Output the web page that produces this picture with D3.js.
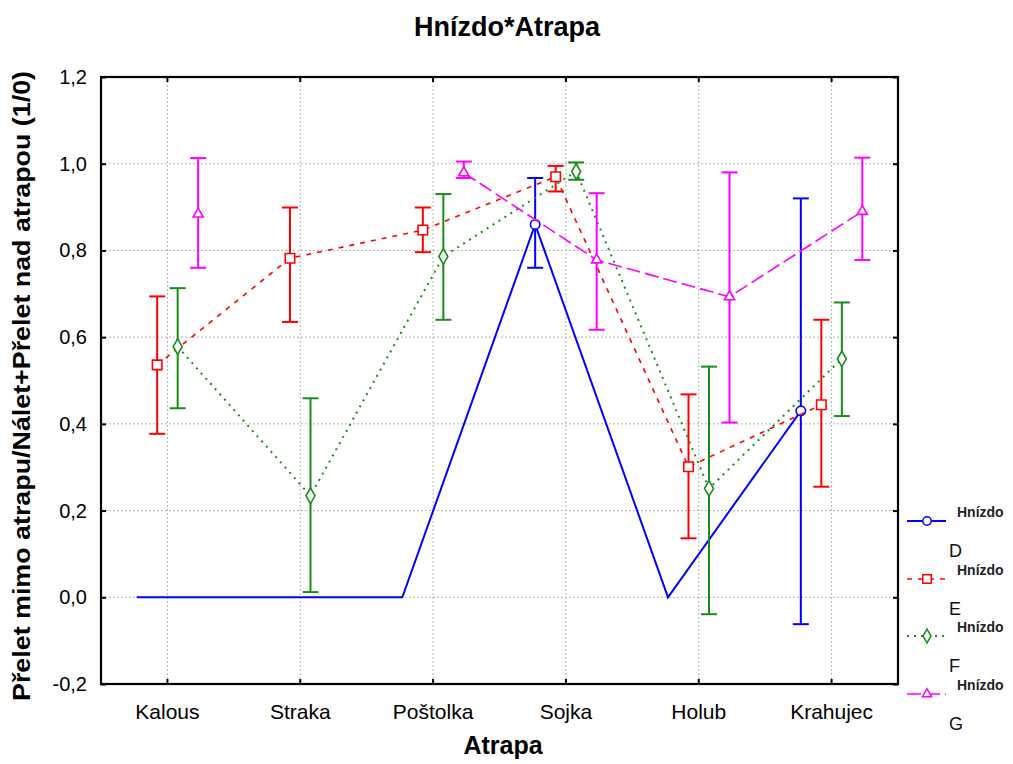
<!DOCTYPE html>
<html><head><meta charset="utf-8">
<script src="https://cdn.jsdelivr.net/npm/d3@7"></script>
<style>body{margin:0;background:#fff}svg{display:block}</style>
</head><body>
<svg id="c" width="1013" height="764"></svg>
<script>
const categories = ["Kalous","Straka","Poštolka","Sojka","Holub","Krahujec"];
const seriesNames = ["D","E","F","G"];
const meanD = [0,0,0,0.86,0,0.43];
const lowD  = [null,null,null,0.76,null,-0.062];
const highD = [null,null,null,0.967,null,0.92];
const meanE = [0.536,0.782,0.847,0.970,0.301,0.444];
const lowE  = [0.377,0.635,0.796,0.936,0.136,0.255];
const highE = [0.694,0.899,0.899,0.995,0.468,0.640];
const meanF = [0.578,0.234,0.786,0.982,0.251,0.550];
const lowF  = [0.436,0.012,0.640,0.963,-0.039,0.418];
const highF = [0.713,0.459,0.930,1.003,0.532,0.680];
const meanG = [0.884,null,0.979,0.778,0.693,0.890];
const lowG  = [0.760,null,0.967,0.617,0.403,0.778];
const highG = [1.013,null,1.005,0.932,0.980,1.014];
const yTicks = [-0.2,0,0.2,0.4,0.6,0.8,1.0,1.2];

const title = "Hnízdo*Atrapa";
const xTitle = "Atrapa";
const yTitle = "Přelet mimo atrapu/Nálet+Přelet nad atrapou (1/0)";
const legendTitle = "Hnízdo";

const means = [meanD, meanE, meanF, meanG];
const lows = [lowD, lowE, lowF, lowG];
const highs = [highD, highE, highF, highG];
const colors = ["#0000ff","#ff0000","#1a8c1a","#ff00ff"];
const dashes = [null,"5,6","2,5","14,5"];
const widths = [2,1.6,2,1.6];
const shapes = [d3.symbolCircle, d3.symbolSquare, d3.symbolDiamond, d3.symbolTriangle];
const sizes = [70, 90, 70, 45];

const svg = d3.select("#c");
const font = "'Liberation Sans Narrow','Arial Narrow','Liberation Sans',Arial,sans-serif";
const L = 101, R = 898, T = 77, B = 684;

const x = d3.scaleBand().domain(categories).range([L, R]);
const y = d3.scaleLinear().domain([-0.2, 1.2]).range([B, T]);
const off = d3.scaleLinear().domain([0, 3]).range([-30.75, 30.75]);
const cx = c => x(c) + x.bandwidth()/2;

// grid
const g = svg.append("g");
g.selectAll(".gy").data(yTicks.filter(v => v > -0.2 && v < 1.2)).join("line")
  .attr("x1", L).attr("x2", R).attr("y1", d => y(d)).attr("y2", d => y(d))
  .attr("stroke", "#b4b4b4").attr("stroke-dasharray", "2,2").attr("stroke-width", 1);
g.selectAll(".gx").data(categories).join("line")
  .attr("x1", d => cx(d)).attr("x2", d => cx(d)).attr("y1", T).attr("y2", B)
  .attr("stroke", "#b4b4b4").attr("stroke-dasharray", "2,2").attr("stroke-width", 1);

// axes (ticks inward on all sides)
const axL = d3.axisRight(y).tickValues(yTicks).tickSize(5).tickFormat("");
const axR = d3.axisLeft(y).tickValues(yTicks).tickSize(5).tickFormat("");
const axT = d3.axisBottom(x).tickSize(5).tickFormat("");
const axB = d3.axisTop(x).tickSize(5).tickFormat("");
[[axL, `translate(${L},0)`],[axR, `translate(${R},0)`],[axT, `translate(0,${T})`],[axB, `translate(0,${B})`]].forEach(([a,t]) => {
  const ga = svg.append("g").attr("transform", t).call(a);
  ga.select(".domain").remove();
  ga.selectAll("line").attr("stroke", "#000").attr("stroke-width", 2);
});
svg.append("rect").attr("x", L).attr("y", T).attr("width", R-L).attr("height", B-T)
  .attr("fill", "none").attr("stroke", "#000").attr("stroke-width", 2.2);

// y tick labels
svg.selectAll(".yl").data(yTicks).join("text")
  .attr("x", 87).attr("y", d => y(d) + 7)
  .attr("text-anchor", "end").attr("font-family", "'Liberation Sans',Arial,sans-serif")
  .attr("font-size", 20).text(d => d3.format(".1f")(d).replace(".", ",").replace("−","-"));

// x tick labels
svg.selectAll(".xl").data(categories).join("text")
  .attr("x", d => cx(d)).attr("y", 719)
  .attr("text-anchor", "middle").attr("font-family", font)
  .attr("font-size", 21).text(d => d);

// titles
svg.append("text").attr("x", 507).attr("y", 36).attr("text-anchor", "middle")
  .attr("font-family", font).attr("font-weight", "bold").attr("font-size", 27).text(title);
svg.append("text").attr("x", 503).attr("y", 754).attr("text-anchor", "middle")
  .attr("font-family", font).attr("font-weight", "bold").attr("font-size", 25).text(xTitle);
svg.append("text").attr("transform", "translate(30,386) rotate(-90)").attr("text-anchor", "middle")
  .attr("font-family", "'Liberation Sans',Arial,sans-serif").attr("font-weight", "bold")
  .attr("font-size", 23).attr("textLength", 630).attr("lengthAdjust", "spacingAndGlyphs").text(yTitle);

// series
seriesNames.forEach((s, i) => {
  const pts = categories.map((c, j) => ({c, m: means[i][j], lo: lows[i][j], hi: highs[i][j], px: cx(c) + off(i)}));
  const line = d3.line().defined(d => d.m !== null).x(d => d.px).y(d => y(d.m));
  svg.append("path").attr("d", line(pts)).attr("fill", "none")
    .attr("stroke", colors[i]).attr("stroke-width", widths[i])
    .attr("stroke-dasharray", dashes[i]);
  const eb = pts.filter(d => d.lo !== null);
  const ge = svg.append("g").attr("stroke", colors[i]).attr("stroke-width", 2);
  ge.selectAll(".v").data(eb).join("line").attr("x1", d => d.px).attr("x2", d => d.px)
    .attr("y1", d => y(d.lo)).attr("y2", d => y(d.hi));
  ge.selectAll(".t").data(eb).join("line").attr("x1", d => d.px - 8).attr("x2", d => d.px + 8)
    .attr("y1", d => y(d.hi)).attr("y2", d => y(d.hi));
  ge.selectAll(".b").data(eb).join("line").attr("x1", d => d.px - 8).attr("x2", d => d.px + 8)
    .attr("y1", d => y(d.lo)).attr("y2", d => y(d.lo));
  svg.append("g").selectAll("path").data(eb).join("path")
    .attr("transform", d => `translate(${d.px},${y(d.m)})`)
    .attr("d", d3.symbol(shapes[i], sizes[i])())
    .attr("fill", "#fff").attr("stroke", colors[i]).attr("stroke-width", 1.6);
});

// legend
const legY = [521, 579, 636, 694];
seriesNames.forEach((s, i) => {
  const ly = legY[i];
  svg.append("line").attr("x1", 907).attr("x2", 946).attr("y1", ly).attr("y2", ly)
    .attr("stroke", colors[i]).attr("stroke-width", widths[i]).attr("stroke-dasharray", dashes[i]);
  svg.append("path").attr("transform", `translate(927,${ly})`)
    .attr("d", d3.symbol(shapes[i], sizes[i]*0.8)())
    .attr("fill", "#fff").attr("stroke", colors[i]).attr("stroke-width", 1.5);
  svg.append("text").attr("x", 957).attr("y", ly - 4).attr("font-family", "'Liberation Sans',Arial,sans-serif")
    .attr("font-weight", "bold").attr("font-size", 14).attr("fill", "#222").text(legendTitle);
  svg.append("text").attr("x", 949).attr("y", ly + 36).attr("font-family", "'Liberation Sans',Arial,sans-serif")
    .attr("font-size", 18).attr("fill", "#111").text(s);
});
</script>
</body></html>
